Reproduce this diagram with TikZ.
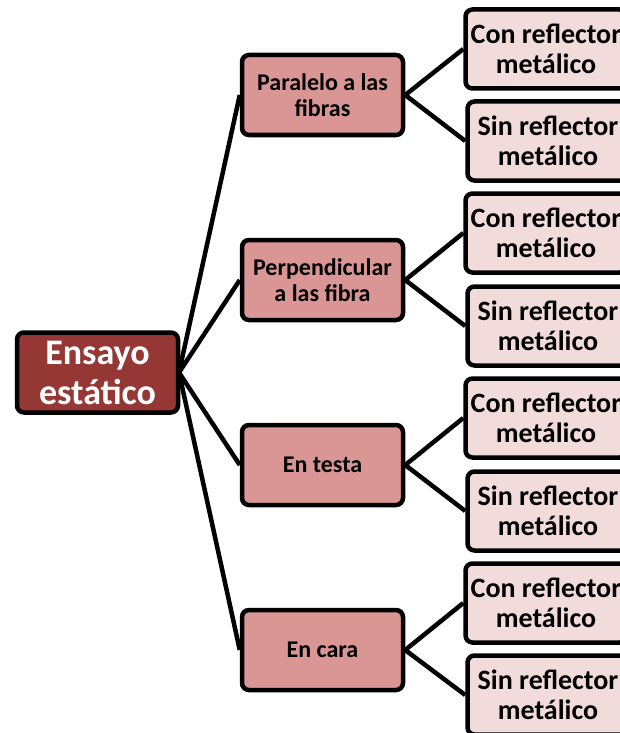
\documentclass[tikz,border=0pt]{standalone}
\usepackage{fontspec}
\setmainfont{Carlito}
\definecolor{rootfill}{HTML}{953735}
\definecolor{midfill}{HTML}{D99694}
\definecolor{leaffill}{HTML}{F2DCDB}
\tikzset{
  box/.style={draw=black, line width=4.5pt, rounded corners=7pt, align=center,
    inner sep=0pt, font=\bfseries},
  rootbox/.style={box, fill=rootfill, text=white, minimum width=161pt, minimum height=80pt,
    font=\fontsize{36}{40}\selectfont\bfseries},
  midbox/.style={box, fill=midfill, text=black, minimum width=161pt, minimum height=80pt,
    font=\fontsize{24}{26}\selectfont\bfseries},
  leafbox/.style={box, fill=leaffill, text=black, minimum width=161pt, minimum height=79pt,
    font=\fontsize{28}{30}\selectfont\bfseries},
  link/.style={line width=4.5pt, draw=black},
}
\begin{document}
\begin{tikzpicture}[x=1pt,y=-1pt]
\useasboundingbox (0,0) rectangle (620,733);
\coordinate (hub) at (179,372.5);
\node[midbox] (m1) at (322.5,95) {Paralelo a las\\fibras};
\node[midbox] (m2) at (322.5,280) {Perpendicular\\a las fibra};
\node[midbox] (m3) at (322.5,465) {En testa};
\node[midbox] (m4) at (322.5,650) {En cara};
\draw[link] (hub) -- (m1.west);
\draw[link] (hub) -- (m2.west);
\draw[link] (hub) -- (m3.west);
\draw[link] (hub) -- (m4.west);
\node[rootbox] (root) at (97.5,372.5) {Ensayo\\estático};
\node[leafbox] (l1) at (546,49) {Con reflector\\metálico};
\node[leafbox] (l2) at (548,141) {Sin reflector\\metálico};
\node[leafbox] (l3) at (546,233) {Con reflector\\metálico};
\node[leafbox] (l4) at (548,326) {Sin reflector\\metálico};
\node[leafbox] (l5) at (546,418) {Con reflector\\metálico};
\node[leafbox] (l6) at (548,511) {Sin reflector\\metálico};
\node[leafbox] (l7) at (546,603) {Con reflector\\metálico};
\node[leafbox] (l8) at (548,695) {Sin reflector\\metálico};
\draw[link] (m1.east) -- (l1.west);
\draw[link] (m1.east) -- (l2.west);
\draw[link] (m2.east) -- (l3.west);
\draw[link] (m2.east) -- (l4.west);
\draw[link] (m3.east) -- (l5.west);
\draw[link] (m3.east) -- (l6.west);
\draw[link] (m4.east) -- (l7.west);
\draw[link] (m4.east) -- (l8.west);
\end{tikzpicture}
\end{document}
